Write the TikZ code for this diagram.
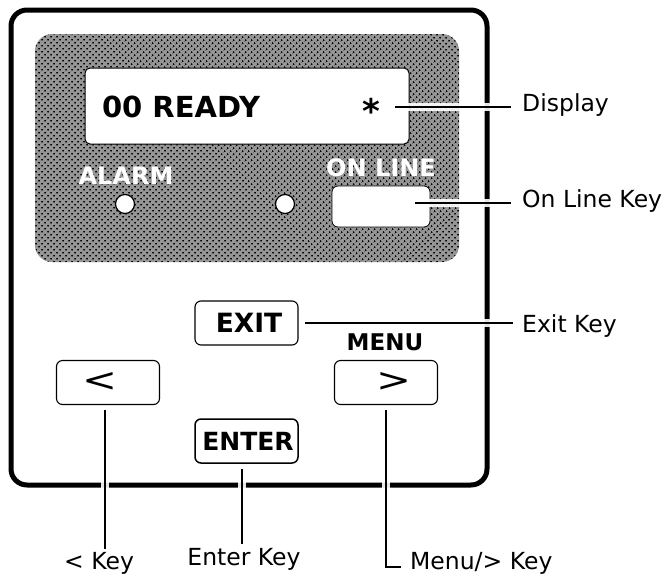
\documentclass[tikz,border=0pt]{standalone}
\usepackage{fontspec}
\setmainfont{DejaVu Sans}
\usepackage{graphicx}
\usepackage{xcolor}
\usetikzlibrary{positioning, patterns.meta}
\definecolor{panelgray}{RGB}{150,150,150}

\begin{document}
\begin{tikzpicture}[
  x=1pt, y=-1pt,
  keybox/.style={rectangle, rounded corners=6pt, draw=black, line width=1.1pt, fill=white,
                 minimum width=103pt, minimum height=44pt, inner sep=0pt,
                 font=\fontsize{25}{25}\selectfont\bfseries},
  calllabel/.style={font=\fontsize{23.5}{26}\selectfont, inner sep=0pt},
  paneltext/.style={font=\fontsize{24}{24}\selectfont\bfseries, inner sep=0pt},
  led/.style={circle, draw=black, line width=1.2pt, fill=white, minimum size=19pt, inner sep=0pt},
  leader/.style={line width=1.6pt, preaction={draw=white, line width=8pt, opacity=0.9}}
]
  \useasboundingbox (0,0) rectangle (663,576);

  % Case and dark panel
  \draw[line width=5pt, fill=white, rounded corners=16pt] (11,10) rectangle (487,485);
  \fill[panelgray, rounded corners=17pt] (35,34) rectangle (459,262);
  \fill[pattern={Dots[distance=4pt, angle=45, radius=1.1pt]}, pattern color=black, rounded corners=17pt]
    (35,34) rectangle (459,262);

  % Display and lamps
  \node[rectangle, rounded corners=5pt, draw=black, line width=1pt, fill=white,
        minimum width=324pt, minimum height=76pt, inner sep=0pt] (display) at (247,106) {};
  \node[font=\fontsize{29}{29}\selectfont\bfseries, inner sep=0pt] (ready) at (181,107) {00 READY};
  \node[font=\fontsize{34}{34}\selectfont\bfseries, inner sep=0pt] (star) at (371,111) {*};
  \node[paneltext, text=white] (alarm) at (126,176) {ALARM};
  \node[paneltext, text=white] (online) at (381,168) {ON LINE};
  \node[led] (ledA) at (125,204) {};
  \node[led] (ledB) at (285,204) {};
  \node[keybox, line width=0.8pt, minimum width=98pt, minimum height=41pt] (onkey) at (381,206.5) {};

  % Keys
  \node[keybox, font=\fontsize{26.5}{26.5}\selectfont\bfseries] (exit) at (246.5,323) {\hspace{5pt}EXIT};
  \node[keybox] (left) at (108,382.5) {};
  \node[keybox] (right) at (386,382.5) {};
  \node[keybox, line width=1.5pt] (enter) at (246.5,441) {\hspace{3pt}ENTER};
  \node[inner sep=0pt] (lt) at (100,382) {\resizebox{35pt}{19pt}{<}};
  \node[inner sep=0pt] (gt) at (394,382) {\resizebox{35pt}{19pt}{>}};
  \node[font=\fontsize{23}{23}\selectfont\bfseries, inner sep=0pt] (menu) at (385,342) {MENU};

  % Labels
  \node[calllabel, anchor=base west] (ldisplay) at (522,111) {Display};
  \node[calllabel, anchor=base west] (lonline) at (522,207) {On Line Key};
  \node[calllabel, anchor=base west] (lexit) at (522,332) {Exit Key};
  \node[calllabel, anchor=base] (lless) at (99,569.5) {< Key};
  \node[calllabel, anchor=base] (lenter) at (244,565) {Enter Key};
  \node[calllabel, anchor=base west] (lmenu) at (410,569.5) {Menu/> Key};

  % Leader ends
  \coordinate (dispstart) at (395,107);
  \coordinate (dispend) at (511,107);
  \coordinate (onstart) at (415,203);
  \coordinate (onend) at (511,203);
  \coordinate (exitstart) at (305,323);
  \coordinate (exitend) at (513,323);
  \coordinate (lessstart) at (105,410);
  \coordinate (lessend) at (105,549);
  \coordinate (enterstart) at (242,469);
  \coordinate (enterend) at (242,544);
  \coordinate (menustart) at (386,410);
  \coordinate (menubend) at (386,567);
  \coordinate (menuend) at (401,567);

  \draw[leader] (dispstart) -- (dispend);
  \draw[leader] (onstart) -- (onend);
  \draw[leader] (exitstart) -- (exitend);
  \draw[leader] (lessstart) -- (lessend);
  \draw[leader] (enterstart) -- (enterend);
  \draw[leader] (menustart) -- (menubend) -- (menuend);
\end{tikzpicture}
\end{document}
